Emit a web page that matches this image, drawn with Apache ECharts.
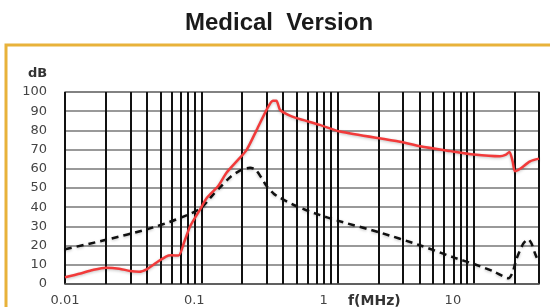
<!DOCTYPE html>
<html>
<head>
<meta charset="utf-8">
<script src="https://cdn.jsdelivr.net/npm/echarts@6/dist/echarts.min.js"></script>
<style>html,body{margin:0;padding:0;background:#fff;}#c{width:550px;height:307px;}</style>
</head>
<body>
<div id="c"></div>
<script>
// Frequencies in MHz, levels in dB
const redFreq = [0.01,0.013,0.016,0.02,0.025,0.03,0.035,0.04,0.047,0.055,0.06,0.068,0.075,0.083,0.098,0.11,0.133,0.153,0.185,0.215,0.255,0.305,0.335,0.355,0.378,0.43,0.5,0.74,1.04,2.87,4.03,6.7,10,15.5,17,18.2,19.2,20,21.8,25.8,30];
const redDb   = [3.5,5.5,7.3,8.5,8.0,6.8,6.4,7.8,11.2,14.3,15,14.8,22,30.2,38.9,44.9,51,57.9,64.5,69.9,80.3,91.5,95.5,95.5,90.7,88.2,86.4,82.9,79.4,74.1,71.7,69.2,67.4,66.5,67.2,68.8,64,58.7,60,63.9,65.3];
const blackFreq = [0.01,0.02,0.04,0.066,0.098,0.122,0.14,0.165,0.195,0.228,0.25,0.275,0.302,0.34,0.378,0.5,0.7,1,2,4,7,10,14,17.9,19.2,20.5,23,25,26.5,28,30];
const blackDb   = [18.1,23,28.5,33.7,39.2,46.6,51,56,59.3,60.5,59.5,55.5,50.9,47,44.9,40.5,36.5,33,27,20.2,14,10.4,6.5,3,6,13,21,23.3,21,16,11.2];
const xTickLabels = ['0.01','0.1','1','10'];
const minorMultipliers = [2,3,4,5,6,7,8,9];
const decades = [0.01,0.1,1,10];
const yMin = 0, yMax = 100, yStep = 10;
const fMin = 0.01, fMax = 30;

const lg = Math.log10;
const minorLines = [];
decades.forEach(d => minorMultipliers.forEach(m => { const f = d*m; if (f < fMax) minorLines.push({xAxis: lg(f)}); }));

const chart = echarts.init(document.getElementById('c'));
chart.setOption({
  animation:false,
  backgroundColor:'#fff',
  title:{text:'Medical  Version', left:185, top:11, padding:0,
    textStyle:{fontFamily:'Liberation Sans', fontWeight:'bold', fontSize:24, color:'#1a1a1a'}},
  grid:{left:65, right:11, top:92, bottom:22, show:true, borderColor:'#888', borderWidth:1.5},
  graphic:[
    {type:'polyline', shape:{points:[[6,307],[6,45],[550,45]]}, style:{stroke:'#E8B23A', lineWidth:3, fill:null}},
    {type:'text', left:28, top:67, style:{text:'dB', font:'bold 13px "DejaVu Sans"', fill:'#333'}},
    {type:'text', left:348, top:294, style:{text:'f(MHz)', font:'bold 14px "DejaVu Sans"', fill:'#333'}}
  ],
  xAxis:[
    {type:'value', min:lg(fMin), max:lg(fMax), interval:1, position:'bottom',
     axisLine:{show:true, lineStyle:{color:'#555', width:1.5}}, axisTick:{show:false},
     axisLabel:{show:false},
     splitLine:{show:true, lineStyle:{color:'#111', width:2}}},
    {type:'value', min:-2, max:1.666, interval:1, position:'bottom',
     axisLine:{show:false}, axisTick:{show:false}, splitLine:{show:false},
     axisLabel:{margin:10, color:'#444', fontFamily:'DejaVu Sans', fontSize:13,
       formatter:function(v){ const i = Math.round(v); if (Math.abs(v-i)>1e-6) return ''; return xTickLabels[i+2] || ''; }}}
  ],
  yAxis:{type:'value', min:yMin, max:yMax, interval:yStep,
    axisLine:{show:false}, axisTick:{show:false},
    axisLabel:{margin:18, color:'#444', fontFamily:'DejaVu Sans', fontSize:13},
    splitLine:{show:true, lineStyle:{color:'#777', width:1.5}}},
  series:[
    {type:'line', z:1, xAxisIndex:0, data:[[lg(fMin),0]], symbol:'none', lineStyle:{opacity:0}, silent:true,
     markLine:{silent:true, symbol:'none', label:{show:false}, lineStyle:{type:'solid', color:'#111', width:2}, data:minorLines}},
    {name:'black', type:'line', z:5, xAxisIndex:0, smooth:0.25, symbol:'none',
     data:blackFreq.map((f,i)=>[lg(f), blackDb[i]]),
     lineStyle:{color:'#111', width:2.5, type:[7,5], shadowColor:'rgba(0,0,0,0.25)', shadowBlur:3, shadowOffsetY:1}},
    {name:'red', type:'line', z:6, xAxisIndex:0, smooth:0.25, symbol:'none',
     data:redFreq.map((f,i)=>[lg(f), redDb[i]]),
     lineStyle:{color:'#F23A3A', width:2.5, shadowColor:'rgba(0,0,0,0.25)', shadowBlur:3, shadowOffsetY:1}}
  ]
});
</script>
</body>
</html>
